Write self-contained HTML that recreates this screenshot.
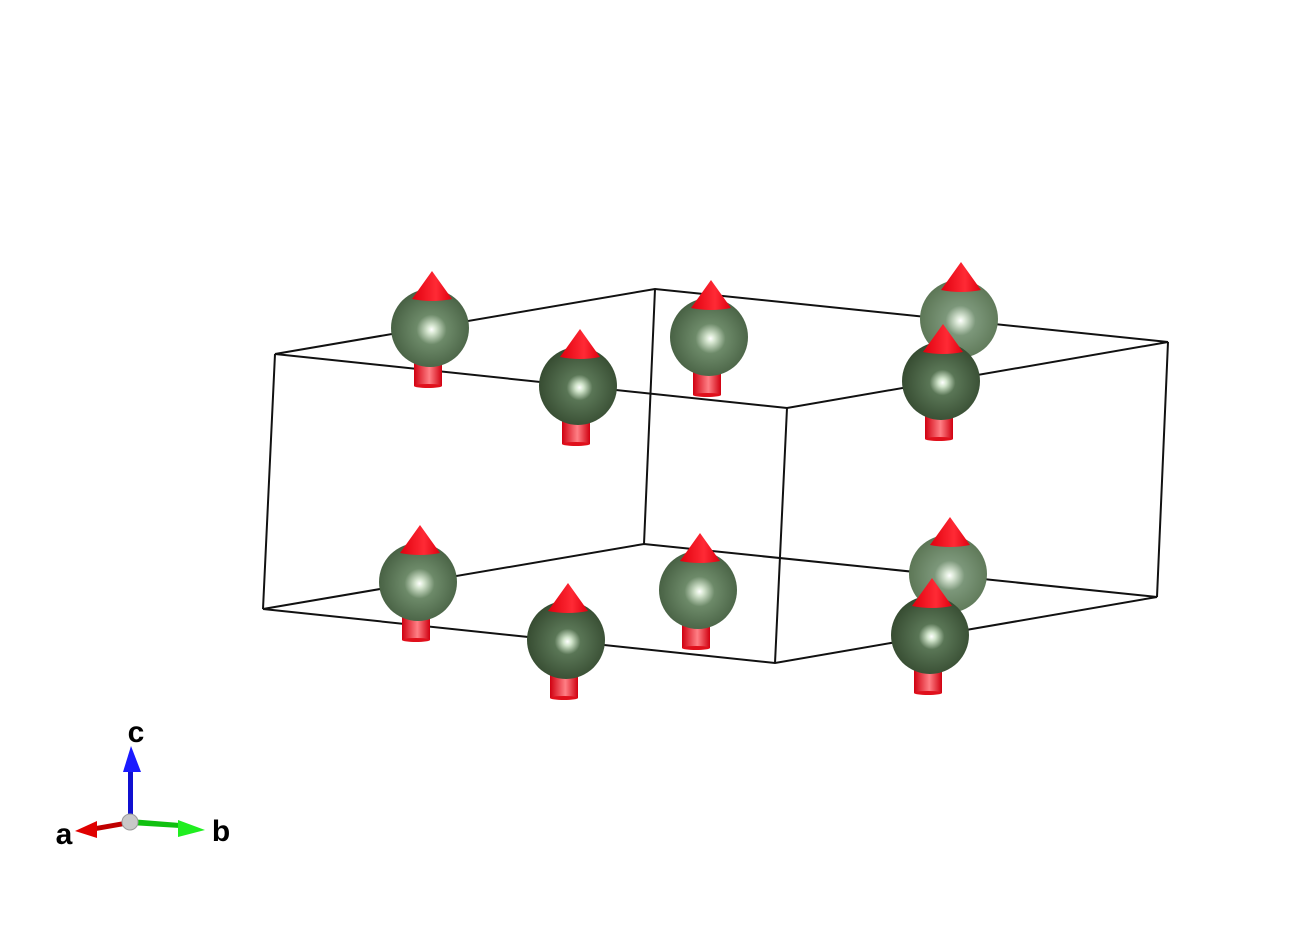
<!DOCTYPE html>
<html><head><style>html,body{margin:0;padding:0;background:#fff}svg{display:block}</style></head>
<body>
<svg width="1298" height="952" viewBox="0 0 1298 952" xmlns="http://www.w3.org/2000/svg">
<defs>
<radialGradient id="gd" cx="0.52" cy="0.52" r="0.55">
<stop offset="0" stop-color="#ffffff"/><stop offset="0.1" stop-color="#d0e4ca"/><stop offset="0.3" stop-color="#5a7656"/><stop offset="1" stop-color="#34492f"/></radialGradient>
<radialGradient id="gl" cx="0.52" cy="0.52" r="0.55">
<stop offset="0" stop-color="#ffffff"/><stop offset="0.1" stop-color="#d6e6d0"/><stop offset="0.35" stop-color="#6d8a69"/><stop offset="1" stop-color="#455e41"/></radialGradient>
<radialGradient id="gv" cx="0.52" cy="0.52" r="0.55">
<stop offset="0" stop-color="#ffffff"/><stop offset="0.1" stop-color="#dbe8d7"/><stop offset="0.35" stop-color="#7c977a"/><stop offset="1" stop-color="#5a7453"/></radialGradient>
<linearGradient id="cy" x1="0" x2="1"><stop offset="0" stop-color="#d00010"/><stop offset="0.55" stop-color="#ff7f85"/><stop offset="1" stop-color="#d00010"/></linearGradient>
<linearGradient id="cn" x1="0" x2="1"><stop offset="0" stop-color="#e0000e"/><stop offset="0.6" stop-color="#ff2a35"/><stop offset="1" stop-color="#e00010"/></linearGradient>
<g id="cyl"><rect x="-16" y="30" width="28" height="28" fill="url(#cy)"/><ellipse cx="-2" cy="58" rx="14" ry="2" fill="#e0101c"/></g>
<g id="cone"><path d="M2 -57 L-18 -29 Q2 -25 22 -29 Z" fill="url(#cn)"/></g>
<g id="ad"><use href="#cyl"/><circle r="39" fill="url(#gd)"/><use href="#cone"/></g>
<g id="al"><use href="#cyl"/><circle r="39" fill="url(#gl)"/><use href="#cone"/></g>
<g id="av"><use href="#cyl"/><circle r="39" fill="url(#gv)"/><use href="#cone"/></g>
</defs>
<g stroke="#111" stroke-width="2" fill="none">
<path d="M275 354 L655 289 L1168 342 L787 408 Z"/>
<path d="M263 609 L644 544 L1157 597 L775 663 Z"/>
<path d="M275 354 L263 609 M655 289 L644 544 M1168 342 L1157 597 M787 408 L775 663"/>
</g>
<use href="#av" x="959" y="319"/>
<use href="#al" x="430" y="328"/>
<use href="#al" x="709" y="337"/>
<use href="#ad" x="578" y="386"/>
<use href="#ad" x="941" y="381"/>
<use href="#av" x="948" y="574"/>
<use href="#al" x="418" y="582"/>
<use href="#al" x="698" y="590"/>
<use href="#ad" x="566" y="640"/>
<use href="#ad" x="930" y="635"/>
<g>
<path d="M128 821 L128 772 L133 772 L133 821 Z" fill="#1010d0"/>
<path d="M131 746 L123 772 L141 772 Z" fill="#1a1aff"/>
<path d="M130 819 L180 823 L180 828 L130 825 Z" fill="#10c010"/>
<path d="M205 830 L178 820 L178 837 Z" fill="#20ee20"/>
<path d="M130 820 L96 826 L96 831 L130 825 Z" fill="#c00000"/>
<path d="M75 831 L97 821 L97 838 Z" fill="#e00000"/>
<circle cx="130" cy="822" r="8" fill="#c8c8c8" stroke="#999" stroke-width="1"/>
</g>
<g font-family="Liberation Sans, sans-serif" font-weight="bold" font-size="30" fill="#000" text-anchor="middle">
<text x="136" y="742">c</text>
<text x="64" y="844">a</text>
<text x="221" y="841">b</text>
</g>
</svg>
</body></html>
